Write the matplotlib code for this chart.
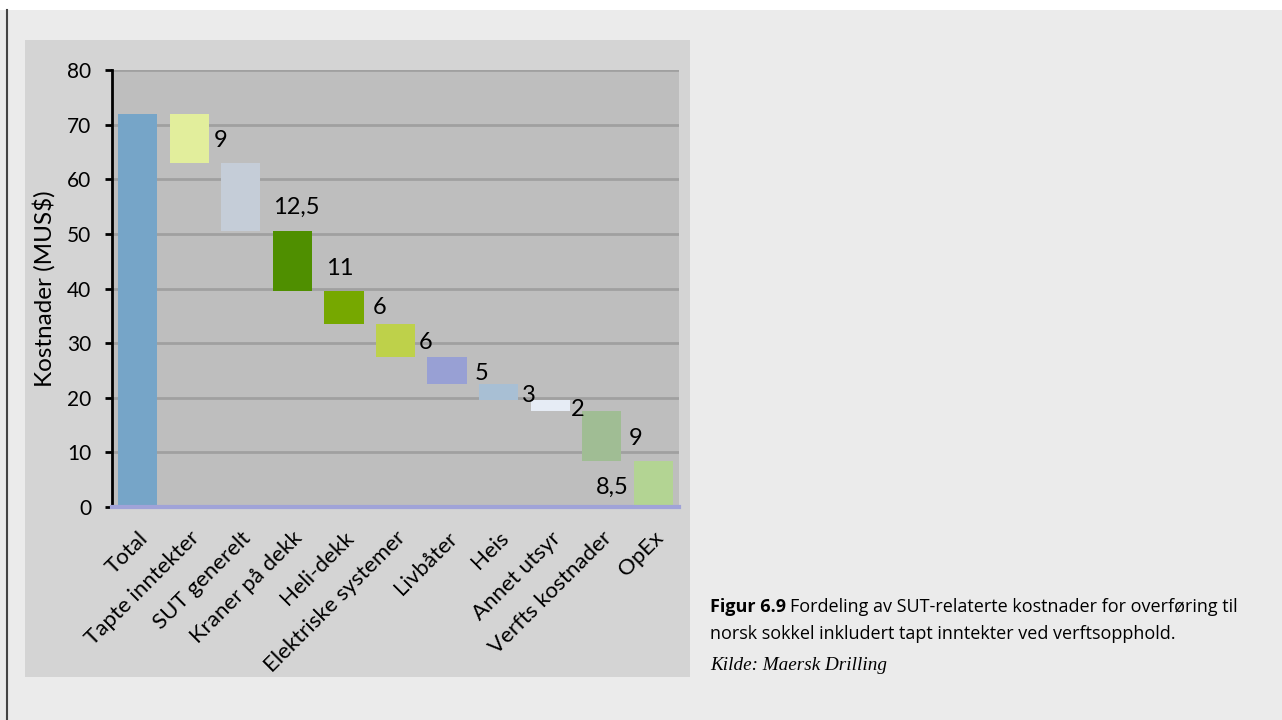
import matplotlib
matplotlib.use("Agg")
import matplotlib.pyplot as plt
from matplotlib.patches import Rectangle
import numpy as np

# data (MUS$)
categories = ["Total", "Tapte inntekter", "SUT generelt", "Kraner på dekk", "Heli-dekk",
              "Elektriske systemer", "Livbåter", "Heis", "Annet utsyr", "Verfts kostnader", "OpEx"]
total = 72
costs = [9, 12.5, 11, 6, 6, 5, 3, 2, 9, 8.5]
labels = ["9", "12,5", "11", "6", "6", "5", "3", "2", "9", "8,5"]
colors = ["#76a5c8", "#e2ee9c", "#c5cdd8", "#4f8f00", "#76a800", "#bed14a",
          "#98a0d4", "#a8bfd4", "#e6ecf5", "#a0bd94", "#b3d493"]

# label offsets in pixels (dx from bar edge, dy from bar middle)
label_dx = [5, 13, 14, 9, 4, 8, 4, 1, 7, -5]
label_dy = [-2, -10, -7, 0, -2, -3, -3, -4, -3, -4]

plt.rcParams['font.family'] = ['Lato', 'DejaVu Sans']

W, H = 1282, 720
fig = plt.figure(figsize=(W / 100, H / 100), dpi=100, facecolor="#ebebeb")

# page decorations
fig.patches.append(Rectangle((0, 1 - 10 / H), 1, 10 / H, transform=fig.transFigure,
                             facecolor="white", edgecolor="none", zorder=0))
fig.add_artist(plt.Line2D([6.5 / W, 6.5 / W], [0, 1 - 10 / H], transform=fig.transFigure,
                          color="#444444", lw=1.5))
# chart area
fig.patches.append(Rectangle((25 / W, 1 - 677 / H), 665 / W, 637 / H, transform=fig.transFigure,
                             facecolor="#d4d4d4", edgecolor="none", zorder=0))

ax = fig.add_axes([112 / W, 1 - 507 / H, 567 / W, 437 / H])
ax.set_zorder(2)
ax.set_facecolor("#bebebe")

x = np.arange(len(categories))
bottoms = [0] + list(total - np.cumsum(costs))
heights = [total] + costs
width = 0.76
ax.bar(x, heights, bottom=bottoms, width=width, color=colors, zorder=3)

ax.set_xlim(-0.5, len(categories) - 0.5)
ax.set_ylim(0, 80)
ax.set_yticks(range(0, 81, 10))
ax.yaxis.grid(True, color="#a0a0a0", lw=2, zorder=1)
ax.set_axisbelow(True)
ax.axhline(0, color="#a0a3d8", lw=3, zorder=4, clip_on=False)

for s in ["top", "right", "bottom"]:
    ax.spines[s].set_visible(False)
ax.spines["left"].set_color("black")
ax.spines["left"].set_linewidth(2)
ax.tick_params(axis="y", length=5, width=2, pad=10, labelsize=15, color="black")
ax.tick_params(axis="x", length=0, pad=15, labelsize=16)
ax.set_xticks(x)
ax.set_xticklabels(categories, rotation=45, ha="right", va="top", rotation_mode="anchor")

ax.set_ylabel("Kostnader (MUS\\$)", fontsize=17.5)
ax.yaxis.set_label_coords(-0.10, 0.5)

# value labels
for i, (c, lab) in enumerate(zip(costs, labels)):
    xi = i + 1
    mid = bottoms[xi] + c / 2
    if label_dx[i] < 0:
        ax.annotate(lab, (xi - width / 2, mid), xytext=(label_dx[i] * 0.72, label_dy[i] * 0.72),
                    textcoords="offset points", ha="right", va="center", fontsize=17, zorder=5)
    else:
        ax.annotate(lab, (xi + width / 2, mid), xytext=(label_dx[i] * 0.72, label_dy[i] * 0.72),
                    textcoords="offset points", ha="left", va="center", fontsize=17, zorder=5)

# caption
cap_font = ["Open Sans", "DejaVu Sans"]
t1 = fig.text(710 / W, 1 - 607 / H, "Figur 6.9", fontsize=13.0, fontweight="bold", va="center",
              family=cap_font)
fig.canvas.draw()
bb = t1.get_window_extent()
fig.text(bb.x1 / W + 4 / W, 1 - 607 / H, "Fordeling av SUT-relaterte kostnader for overføring til",
         fontsize=13.0, va="center", family=cap_font)
fig.text(710 / W, 1 - 634 / H, "norsk sokkel inkludert tapt inntekter ved verftsopphold.",
         fontsize=13.0, va="center", family=cap_font)
fig.text(710 / W, 1 - 665 / H, "Kilde: Maersk Drilling", fontsize=13.8, style="italic",
         family="Liberation Serif", va="center")

fig.savefig("out.png", dpi=100, facecolor=fig.get_facecolor())
